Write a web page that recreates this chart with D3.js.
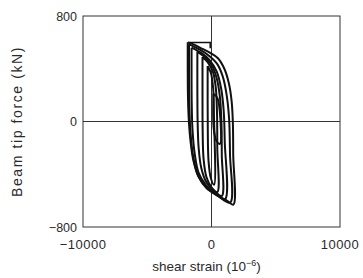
<!DOCTYPE html>
<html>
<head>
<meta charset="utf-8">
<script src="https://cdn.jsdelivr.net/npm/d3@7"></script>
<style>
  body { margin: 0; background: #fff; }
  text { font-family: "Liberation Sans", Arial, sans-serif; fill: #2a2a2a; }
</style>
</head>
<body>
<div id="chart"></div>
<script>
// axis ticks
const xTicks = [-10000, 0, 10000];
const yTicks = [-800, 0, 800];

// initial loading path, then hysteresis loops from outer to inner, [shear strain (1e-6), force (kN)]
const firstLoad = [[-1800, 600], [-100, 600], [-100, 555]];
const loopA = [[-1850, 600], [-1400, 585], [-900, 560], [-100, 520], [500, 480], [1000, 400], [1350, 290], [1560, 160], [1660, 0], [1690, -250], [1700, -630],
  [1200, -600], [660, -571], [-375, -507], [-1000, -420], [-1400, -300], [-1620, -160], [-1760, 0], [-1830, 180], [-1850, 400], [-1850, 600]];
const loopB = [[-1750, 585], [-900, 545], [-150, 495], [450, 435], [880, 340], [1180, 200], [1370, 20], [1440, -250], [1450, -615],
  [500, -565], [-400, -500], [-1050, -410], [-1420, -270], [-1630, -90], [-1720, 100], [-1750, 350], [-1750, 585]];
const loopC = [[-1550, 560], [-800, 520], [-150, 465], [400, 380], [750, 250], [950, 80], [1030, -150], [1050, -590],
  [300, -545], [-450, -480], [-1000, -390], [-1300, -250], [-1480, -60], [-1540, 150], [-1550, 560]];
const loopD = [[-1100, 530], [-550, 490], [0, 430], [400, 330], [650, 190], [770, 0], [800, -250], [800, -565],
  [200, -525], [-400, -460], [-800, -350], [-1000, -200], [-1080, 0], [-1100, 250], [-1100, 530]];
const loopE = [[-700, 490], [-300, 450], [100, 380], [330, 260], [430, 60], [450, -200], [450, -535],
  [0, -500], [-400, -420], [-620, -280], [-690, -50], [-700, 200], [-700, 490]];
const loopF = [[-300, 420], [-50, 370], [130, 250], [190, 50], [200, -480],
  [-50, -430], [-230, -300], [-290, -50], [-300, 420]];
const loopG = [[150, 210], [450, 180], [640, 80], [660, -170], [400, -150], [180, -60], [150, 210]];

const loops = [loopA, loopB, loopC, loopD, loopE, loopF, loopG];

const width = 363, height = 278;
const margin = { top: 16, right: 23, bottom: 51, left: 83 };
const w = width - margin.left - margin.right;
const h = height - margin.top - margin.bottom;

const svg = d3.select("#chart").append("svg")
  .attr("width", width)
  .attr("height", height);

const g = svg.append("g").attr("transform", `translate(${margin.left},${margin.top})`);

const x = d3.scaleLinear().domain([-10000, 10000]).range([0, w]);
const y = d3.scaleLinear().domain([-800, 800]).range([h, 0]);

// zero lines
g.append("line").attr("x1", 0).attr("x2", w).attr("y1", y(0)).attr("y2", y(0))
  .attr("stroke", "#333").attr("stroke-width", 1);
g.append("line").attr("x1", x(0)).attr("x2", x(0)).attr("y1", 0).attr("y2", h)
  .attr("stroke", "#333").attr("stroke-width", 1);

// frame
g.append("rect").attr("width", w).attr("height", h)
  .attr("fill", "none").attr("stroke", "#333").attr("stroke-width", 1);

const line = d3.line()
  .curve(d3.curveCatmullRom.alpha(0.5))
  .x(d => x(d[0]))
  .y(d => y(d[1]));

const straight = d3.line()
  .x(d => x(d[0]))
  .y(d => y(d[1]));

g.append("path")
  .datum(firstLoad)
  .attr("fill", "none")
  .attr("stroke", "#111")
  .attr("stroke-width", 1.5)
  .attr("d", straight);

g.selectAll("path.loop")
  .data(loops)
  .enter()
  .append("path")
  .attr("class", "loop")
  .attr("fill", "none")
  .attr("stroke", "#111")
  .attr("stroke-width", 2)
  .attr("stroke-linejoin", "round")
  .attr("d", line);

// tick labels
g.selectAll("text.xt")
  .data(xTicks)
  .enter()
  .append("text")
  .attr("class", "xt")
  .attr("x", d => x(d))
  .attr("y", h + 22)
  .attr("text-anchor", "middle")
  .attr("font-size", 13)
  .attr("letter-spacing", 0.5)
  .text(d => d < 0 ? "\u2212" + Math.abs(d) : d);

g.selectAll("text.yt")
  .data(yTicks)
  .enter()
  .append("text")
  .attr("class", "yt")
  .attr("x", -6)
  .attr("y", d => y(d) + 4.5)
  .attr("text-anchor", "end")
  .attr("font-size", 12.5)
  .text(d => d < 0 ? "\u2212" + Math.abs(d) : d);

// axis titles
const xt = g.append("text")
  .attr("x", w / 2 - 5)
  .attr("y", h + 44)
  .attr("text-anchor", "middle")
  .attr("font-size", 13.5);
xt.append("tspan").text("shear strain (10");
xt.append("tspan").attr("dy", -5).attr("font-size", 9).text("\u22126");
xt.append("tspan").attr("dy", 5).text(")");

g.append("text")
  .attr("transform", `translate(${-61},${h / 2}) rotate(-90)`)
  .attr("text-anchor", "middle")
  .attr("font-size", 14)
  .attr("letter-spacing", 1.6)
  .text("Beam tip force (kN)");
</script>
</body>
</html>
